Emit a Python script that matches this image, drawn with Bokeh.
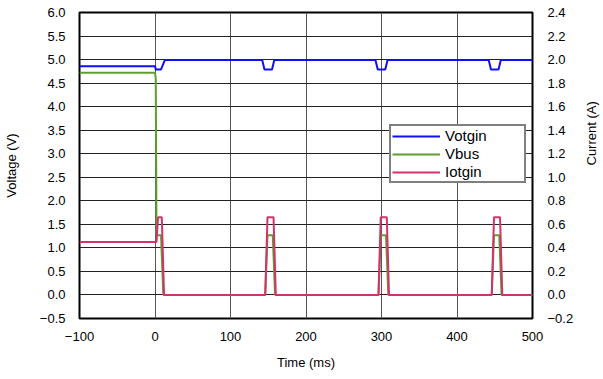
import math
from bokeh.plotting import figure
from bokeh.models import Range1d, LinearAxis, FixedTicker, Legend, LegendItem, CustomJSTickFormatter
from bokeh.embed import file_html
from bokeh.resources import INLINE

# ---- data ----
votgin_t = [-100, 0, 1, 8, 13, 142, 145, 155, 158, 292, 295, 305, 308, 442, 445, 455, 458, 500]
votgin_v = [4.86, 4.86, 4.79, 4.79, 4.99, 4.99, 4.79, 4.79, 4.99, 4.99, 4.79, 4.79, 4.99, 4.99, 4.79, 4.79, 4.99, 4.99]

vbus_t = [-100, 0, 1, 2, 8, 11, 146, 149, 156, 159, 296, 299, 306, 309, 446, 449, 456, 459, 500]
vbus_v = [4.72, 4.72, 4.6, 1.27, 1.27, 0.0, 0.0, 1.27, 1.27, 0.0, 0.0, 1.27, 1.27, 0.0, 0.0, 1.27, 1.27, 0.0, 0.0]

iotgin_t = [-100, 2, 4, 9, 12, 146, 149, 157, 160, 296, 299, 307, 310, 446, 449, 457, 460, 500]
iotgin_a = [0.45, 0.45, 0.66, 0.66, 0.0, 0.0, 0.66, 0.66, 0.0, 0.0, 0.66, 0.66, 0.0, 0.0, 0.66, 0.66, 0.0, 0.0]

x_ticks = [-100, 0, 100, 200, 300, 400, 500]
v_ticks = [-0.5, 0.0, 0.5, 1.0, 1.5, 2.0, 2.5, 3.0, 3.5, 4.0, 4.5, 5.0, 5.5, 6.0]
i_ticks = [-0.2, 0.0, 0.2, 0.4, 0.6, 0.8, 1.0, 1.2, 1.4, 1.6, 1.8, 2.0, 2.2, 2.4]

FONT = "Liberation Sans"

p = figure(width=587, height=363, frame_width=453, frame_height=306,
           output_backend="svg", toolbar_location=None,
           x_range=Range1d(-100, 500), y_range=Range1d(-0.5, 6.0),
           min_border_left=70, min_border_right=64, min_border_top=12, min_border_bottom=45)
p.extra_y_ranges = {"cur": Range1d(-0.2, 2.4)}

p.outline_line_color = "black"
p.outline_line_width = 2
p.background_fill_color = "white"

p.xgrid.ticker = FixedTicker(ticks=x_ticks)
p.ygrid.ticker = FixedTicker(ticks=v_ticks)
p.xgrid.grid_line_color = "#555555"
p.ygrid.grid_line_color = "#222222"
p.xgrid.grid_line_width = 1
p.ygrid.grid_line_width = 1

fmt_dec = CustomJSTickFormatter(code="""
var s = tick.toFixed(1);
if (tick < 0) { s = '\u2212' + Math.abs(tick).toFixed(1); }
return s;
""")
fmt_int = CustomJSTickFormatter(code="""
var s = tick.toFixed(0);
if (tick < 0) { s = '\u2212' + Math.abs(tick).toFixed(0); }
return s;
""")

def style_axis(ax, label_standoff):
    ax.axis_line_color = None
    ax.major_tick_line_color = None
    ax.minor_tick_line_color = None
    ax.major_label_text_font = FONT
    ax.major_label_text_font_size = "13px"
    ax.major_label_text_color = "black"
    ax.axis_label_text_font = FONT
    ax.axis_label_text_font_size = "13px"
    ax.axis_label_text_font_style = "normal"
    ax.axis_label_text_color = "black"
    ax.major_label_standoff = label_standoff

xa = p.xaxis[0]
xa.ticker = FixedTicker(ticks=x_ticks)
xa.formatter = fmt_int
xa.axis_label = "Time (ms)"
style_axis(xa, 7)
xa.axis_label_standoff = 11

ya = p.yaxis[0]
ya.ticker = FixedTicker(ticks=v_ticks)
ya.formatter = fmt_dec
ya.axis_label = "Voltage (V)"
style_axis(ya, 8)
ya.axis_label_standoff = 18

ra = LinearAxis(y_range_name="cur", ticker=FixedTicker(ticks=i_ticks), formatter=fmt_dec,
                axis_label="Current (A)")
style_axis(ra, 9)
ra.axis_label_standoff = 15
ra.axis_label_orientation = math.pi / 2
p.add_layout(ra, "right")

r1 = p.line(votgin_t, votgin_v, line_color="#1010f0", line_width=2)
r2 = p.line(vbus_t, vbus_v, line_color="#5e9e2e", line_width=2)
r3 = p.line(iotgin_t, iotgin_a, line_color="#d2336a", line_width=2, y_range_name="cur")

legend = Legend(items=[LegendItem(label="Votgin", renderers=[r1]),
                       LegendItem(label="Vbus", renderers=[r2]),
                       LegendItem(label="Iotgin", renderers=[r3])],
                location=(310, 135))
legend.label_text_font = FONT
legend.label_text_font_size = "15px"
legend.label_text_color = "black"
legend.border_line_color = "black"
legend.border_line_width = 2
legend.background_fill_alpha = 1
legend.glyph_width = 48
legend.glyph_height = 12
legend.label_height = 12
legend.spacing = 1
legend.padding = 1
legend.margin = 0
legend.label_standoff = 5
legend.label_width = 78
p.add_layout(legend, "center")

open("out.html", "w").write(file_html(p, INLINE))
